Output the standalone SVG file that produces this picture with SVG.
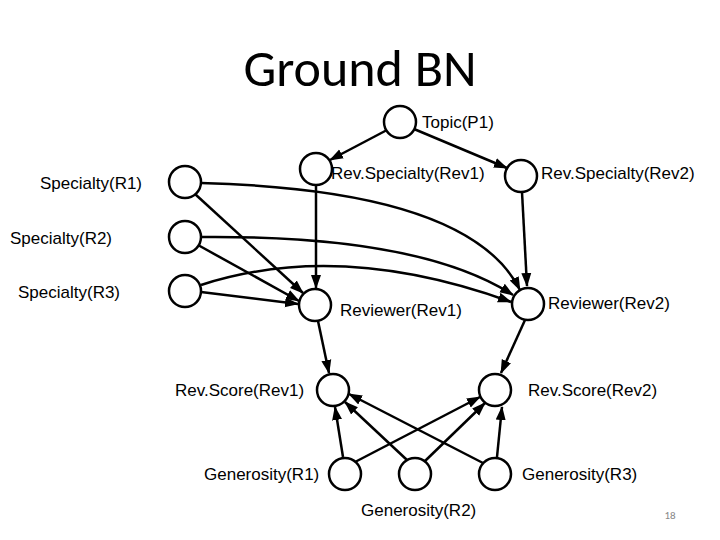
<svg xmlns="http://www.w3.org/2000/svg" width="720" height="540" viewBox="0 0 720 540">
<defs>
<marker id="a" markerWidth="14" markerHeight="12" refX="13" refY="6" orient="auto" markerUnits="userSpaceOnUse"><path d="M0,1 L14,6 L0,11 z" fill="#000"/></marker>
<style>
.n{fill:#fff;stroke:#000;stroke-width:2.5}
.t{font-family:"Liberation Sans",Arial,sans-serif;font-size:17px;fill:#000}
#edges path,#edges line{stroke:#000;stroke-width:2.5;fill:none;marker-end:url(#a)}
</style>
</defs>
<rect width="720" height="540" fill="#fff"/>
<text x="360" y="86" text-anchor="middle" font-family="Calibri,Carlito,'Open Sans',sans-serif" font-size="52">Ground BN</text>
<g id="edges">
<line x1="387" y1="130" x2="330" y2="160"/>
<line x1="414" y1="129" x2="507" y2="168"/>
<line x1="316" y1="185" x2="316" y2="288"/>
<line x1="522" y1="192" x2="527" y2="286"/>
<line x1="195" y1="194" x2="303" y2="293"/>
<line x1="198" y1="245" x2="299" y2="301"/>
<line x1="201" y1="292" x2="298" y2="304"/>
<path d="M201,183 Q470,190 520,290"/>
<path d="M201,237 Q420,235 513,295"/>
<path d="M201,285 Q340,240 511,302"/>
<line x1="318" y1="321" x2="329" y2="373"/>
<line x1="525" y1="320" x2="501" y2="373"/>
<line x1="343" y1="457" x2="335" y2="407"/>
<line x1="355" y1="462" x2="480" y2="397"/>
<line x1="407" y1="460" x2="345" y2="402"/>
<line x1="425" y1="461" x2="485" y2="403"/>
<line x1="483" y1="463" x2="349" y2="394"/>
<line x1="497" y1="457" x2="502" y2="407"/>
</g>
<g id="topic"><circle class="n" cx="400" cy="122" r="16"/><text class="t" x="422" y="128">Topic(P1)</text></g>
<g id="rs1"><circle class="n" cx="316" cy="169" r="16"/><text class="t" x="331" y="179">Rev.Specialty(Rev1)</text></g>
<g id="rs2"><circle class="n" cx="521" cy="176" r="16"/><text class="t" x="541" y="179">Rev.Specialty(Rev2)</text></g>
<g id="s1"><circle class="n" cx="185" cy="182" r="16"/><text class="t" x="40" y="189">Specialty(R1)</text></g>
<g id="s2"><circle class="n" cx="185" cy="237" r="16"/><text class="t" x="10" y="244">Specialty(R2)</text></g>
<g id="s3"><circle class="n" cx="185" cy="291" r="16"/><text class="t" x="18" y="298">Specialty(R3)</text></g>
<g id="r1"><circle class="n" cx="315" cy="305" r="16"/><text class="t" x="340" y="316">Reviewer(Rev1)</text></g>
<g id="r2"><circle class="n" cx="528" cy="304" r="16"/><text class="t" x="548" y="309">Reviewer(Rev2)</text></g>
<g id="sc1"><circle class="n" cx="333" cy="390" r="16"/><text class="t" x="175" y="396">Rev.Score(Rev1)</text></g>
<g id="sc2"><circle class="n" cx="495" cy="390" r="16"/><text class="t" x="528" y="396">Rev.Score(Rev2)</text></g>
<g id="g1"><circle class="n" cx="345" cy="474" r="16"/><text class="t" x="204" y="480">Generosity(R1)</text></g>
<g id="g2"><circle class="n" cx="415" cy="474" r="16"/><text class="t" x="361" y="516">Generosity(R2)</text></g>
<g id="g3"><circle class="n" cx="495" cy="474" r="16"/><text class="t" x="522" y="480">Generosity(R3)</text></g>
<text x="670" y="519" text-anchor="middle" font-family="Calibri,Carlito,'Open Sans',sans-serif" font-size="11" fill="#888">18</text>
</svg>
